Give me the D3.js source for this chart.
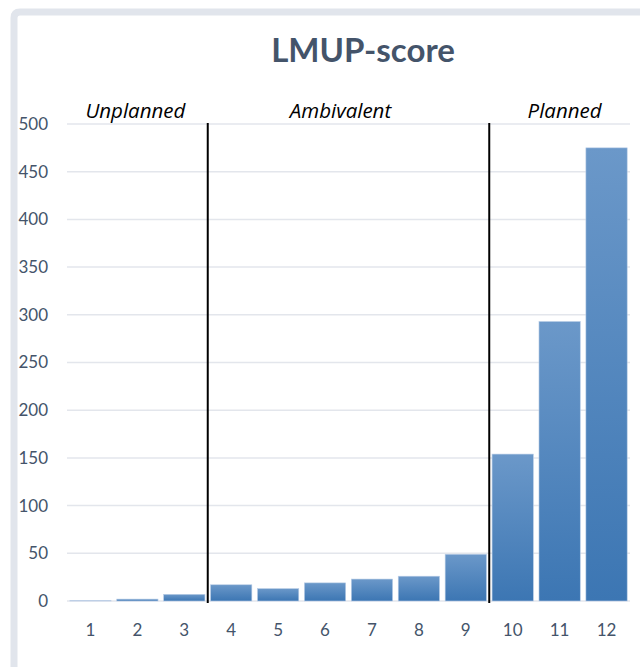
<!DOCTYPE html>
<html>
<head>
<meta charset="utf-8">
<script src="https://cdn.jsdelivr.net/npm/d3@7"></script>
<style>
  html, body { margin: 0; padding: 0; background: #fff; }
  svg { display: block; }
</style>
</head>
<body>
<svg id="chart" width="640" height="667"></svg>
<script>
const categories = ["1", "2", "3", "4", "5", "6", "7", "8", "9", "10", "11", "12"];
const counts = [0.3, 2, 7, 17, 13, 19, 23, 26, 49, 154, 293, 475];
const yTicks = [0, 50, 100, 150, 200, 250, 300, 350, 400, 450, 500];
const groups = [
  { name: "Unplanned", from: "1", to: "3" },
  { name: "Ambivalent", from: "4", to: "9" },
  { name: "Planned", from: "10", to: "12" }
];
const dividers = ["4", "10"];

const svg = d3.select("#chart");
const W = 640, H = 667;
const margin = { top: 124, right: 10, bottom: 66, left: 67 };
// hand-placed text boxes in the original sit a little off the group centres
const labelNudge = { Unplanned: -2, Ambivalent: -8, Planned: 5 };

// outer frame (light grey panel edge)
svg.append("path")
  .attr("d", `M14,${H} L14,18 Q14,12 20,12 L${W},12`)
  .attr("fill", "none")
  .attr("stroke", "#e1e5ec")
  .attr("stroke-width", 7);

const x = d3.scaleBand()
  .domain(categories)
  .range([margin.left, W - margin.right])
  .paddingInner(0.12)
  .paddingOuter(0.06);

const y = d3.scaleLinear()
  .domain([0, 500])
  .range([H - margin.bottom, margin.top]);

const defs = svg.append("defs");
const grad = defs.append("linearGradient")
  .attr("id", "barGrad")
  .attr("x1", 0).attr("y1", 0).attr("x2", 0).attr("y2", 1);
grad.append("stop").attr("offset", "0%").attr("stop-color", "#6b98c9");
grad.append("stop").attr("offset", "100%").attr("stop-color", "#3c76b3");

// gridlines
svg.append("g")
  .selectAll("line")
  .data(yTicks)
  .join("line")
  .attr("x1", margin.left)
  .attr("x2", W - margin.right)
  .attr("y1", d => y(d))
  .attr("y2", d => y(d))
  .attr("stroke", "#e3e6ec")
  .attr("stroke-width", 1.5);

// y labels
svg.append("g")
  .selectAll("text")
  .data(yTicks)
  .join("text")
  .attr("x", 48)
  .attr("y", d => y(d))
  .attr("dy", "0.35em")
  .attr("text-anchor", "end")
  .attr("font-family", "Lato, sans-serif")
  .attr("font-size", 17)
  .attr("fill", "#44546a")
  .text(d => d);

// bars
svg.append("g")
  .selectAll("rect")
  .data(categories.map((c, i) => ({ c, v: counts[i] })))
  .join("rect")
  .attr("x", d => x(d.c))
  .attr("y", d => y(d.v))
  .attr("width", x.bandwidth())
  .attr("height", d => y(0) - y(d.v))
  .attr("fill", "url(#barGrad)")
  .attr("stroke", "#b9cde6")
  .attr("stroke-width", 0.6);

// x labels
svg.append("g")
  .selectAll("text")
  .data(categories)
  .join("text")
  .attr("x", d => x(d) + x.bandwidth() / 2)
  .attr("y", 636)
  .attr("text-anchor", "middle")
  .attr("font-family", "Lato, sans-serif")
  .attr("font-size", 17)
  .attr("fill", "#44546a")
  .text(d => d);

// dividers between groups
const step = x.step();
svg.append("g")
  .selectAll("line")
  .data(dividers)
  .join("line")
  .attr("x1", d => x(d) - step * x.paddingInner() / 2)
  .attr("x2", d => x(d) - step * x.paddingInner() / 2)
  .attr("y1", margin.top - 1)
  .attr("y2", y(0) + 2)
  .attr("stroke", "#000")
  .attr("stroke-width", 2);

// group labels
svg.append("g")
  .selectAll("text")
  .data(groups)
  .join("text")
  .attr("x", d => (x(d.from) + x(d.to) + x.bandwidth()) / 2 + labelNudge[d.name])
  .attr("y", 118)
  .attr("text-anchor", "middle")
  .attr("font-family", "'Open Sans', sans-serif")
  .attr("font-style", "italic")
  .attr("font-size", 20.5)
  .attr("fill", "#000")
  .text(d => d.name);

// title
svg.append("text")
  .attr("x", 363)
  .attr("y", 62)
  .attr("text-anchor", "middle")
  .attr("font-family", "Lato, sans-serif")
  .attr("font-weight", "bold")
  .attr("font-size", 33)
  .attr("fill", "#44546a")
  .text("LMUP-score");
</script>
</body>
</html>
